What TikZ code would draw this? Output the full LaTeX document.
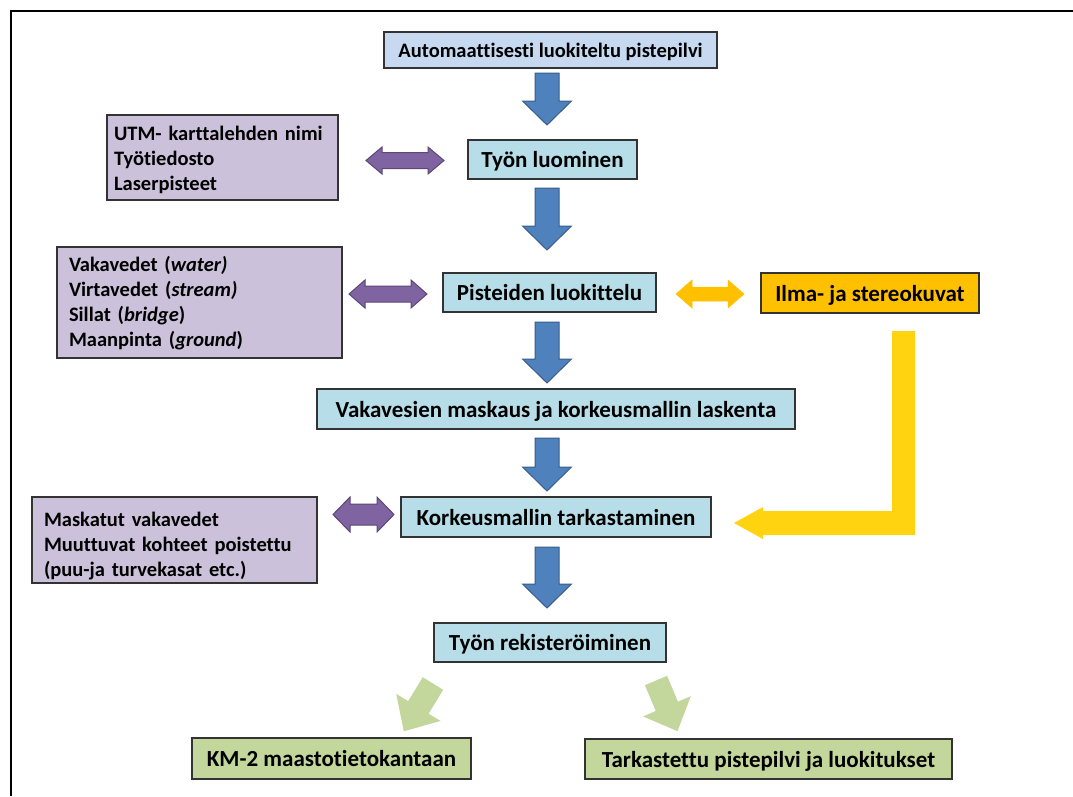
\documentclass[tikz,border=0pt]{standalone}
\usepackage{fontspec}
\setmainfont{Carlito}[Ligatures=NoCommon]
\usetikzlibrary{calc}

\definecolor{topblue}{HTML}{C6D9F1}
\definecolor{stepblue}{HTML}{B7DEE8}
\definecolor{lilac}{HTML}{CCC1DA}
\definecolor{amber}{HTML}{FFC000}
\definecolor{olivefill}{HTML}{C3D69B}
\definecolor{arrowblue}{HTML}{4F81BD}
\definecolor{arrowblueedge}{HTML}{385D8A}
\definecolor{arrowpurple}{HTML}{8064A2}
\definecolor{arrowpurpleedge}{HTML}{5C4776}
\definecolor{lightyellow}{HTML}{FFD30F}

% vertical block arrow from a top coordinate down to a tip coordinate
\newcommand\blockdown[2]{%
  \filldraw[bluearrow] let \p1=#1, \p2=#2 in
    (\x1-12pt,\y1) -- (\x1+12pt,\y1) -- (\x1+12pt,\y2+24pt) -- (\x1+24.5pt,\y2+24pt)
    -- (\x2,\y2) -- (\x1-24.5pt,\y2+24pt) -- (\x1-12pt,\y2+24pt) -- cycle;}
% horizontal double-headed block arrow: style, left tip, right tip, half head, half shaft, head length
\newcommand\dblarrow[6]{%
  \filldraw[#1] let \p1=#2, \p2=#3 in
    (\x1,\y1) -- (\x1+#6,\y1+#4) -- (\x1+#6,\y1+#5) -- (\x2-#6,\y1+#5) -- (\x2-#6,\y1+#4)
    -- (\x2,\y1) -- (\x2-#6,\y1-#4) -- (\x2-#6,\y1-#5) -- (\x1+#6,\y1-#5) -- (\x1+#6,\y1-#4) -- cycle;}

\begin{document}
\begin{tikzpicture}[x=1pt,y=-1pt,
  box/.style={draw=black!80, line width=1.1pt, inner sep=0pt, align=center, text depth=0pt,
    font=\fontsize{23}{27}\selectfont\bfseries},
  stepbox/.style={box, fill=stepblue},
  listbox/.style={draw=black!80, line width=1.1pt, fill=lilac, align=left,
    inner ysep=0pt, font=\fontsize{20.5}{25}\selectfont\bfseries},
  bluearrow/.style={fill=arrowblue, draw=arrowblueedge, line width=1pt},
  purplearrow/.style={fill=arrowpurple, draw=arrowpurpleedge, line width=1pt},
  amberarrow/.style={fill=amber, draw=amber, line width=0.5pt},
  yellowarrow/.style={fill=lightyellow, draw=none},
  greenarrow/.style={fill=olivefill, draw=none}]

\useasboundingbox (0,0) rectangle (1073,796);

% page frame
\draw[line width=2pt] (10.5,796) -- (10.5,10.5) -- (1073,10.5);

% main flow
\node[box, fill=topblue, minimum width=333, minimum height=36,
  font=\fontsize{20.5}{24}\selectfont\bfseries] (auto) at (550.5,50) {Automaattisesti luokiteltu pistepilvi};
\node[stepbox, minimum width=169, minimum height=39] (create) at (552.5,159.5) {Työn luominen};
\node[stepbox, minimum width=213, minimum height=39] (classify) at (549.5,292.5) {Pisteiden luokittelu};
\node[stepbox, minimum width=478, minimum height=40] (mask) at (556,409) {Vakavesien maskaus ja korkeusmallin laskenta};
\node[stepbox, minimum width=310, minimum height=40] (check) at (556,517) {Korkeusmallin tarkastaminen};
\node[stepbox, minimum width=232, minimum height=39] (register) at (550,642.5) {Työn rekisteröiminen};

% side boxes
\node[box, fill=amber, minimum width=218, minimum height=40] (photos) at (870,293) {Ilma- ja stereokuvat};
\node[listbox, inner xsep=7pt, text width=217, minimum height=85] (inputs) at (222.5,157.5)
  {\rule{0pt}{19pt}UTM- karttalehden nimi\\Työtiedosto\\Laserpisteet};
\node[listbox, inner xsep=12pt, text width=261, minimum height=111] (classes) at (199.5,302.5)
  {\rule{0pt}{16.5pt}Vakavedet (\textit{water)}\\Virtavedet (\textit{stream)}\\Sillat (\textit{bridge})\\Maanpinta (\textit{ground})};
\node[listbox, inner xsep=12pt, text width=261, minimum height=86] (results) at (174.5,540)
  {\rule{0pt}{26pt}Maskatut vakavedet\\Muuttuvat kohteet poistettu\\(puu-ja turvekasat etc.)};

% outputs
\node[box, fill=olivefill, minimum width=279, minimum height=41] (db) at (331.5,758.5) {KM-2 maastotietokantaan};
\node[box, fill=olivefill, minimum width=367, minimum height=40] (cloud) at (768.5,759) {Tarkastettu pistepilvi ja luokitukset};

% downward block arrows
\coordinate (a1s) at (547,73);  \coordinate (a1e) at (547,125);
\coordinate (a2s) at (547,188); \coordinate (a2e) at (547,250);
\coordinate (a3s) at (547,322); \coordinate (a3e) at (547,383);
\coordinate (a4s) at (547,438); \coordinate (a4e) at (547,491);
\coordinate (a5s) at (547,547); \coordinate (a5e) at (547,608);
\blockdown{(a1s)}{(a1e)}
\blockdown{(a2s)}{(a2e)}
\blockdown{(a3s)}{(a3e)}
\blockdown{(a4s)}{(a4e)}
\blockdown{(a5s)}{(a5e)}

% two-way arrows to the side boxes
\coordinate (d1l) at (366,160.5); \coordinate (d1r) at (444,160.5);
\coordinate (d2l) at (349,294);   \coordinate (d2r) at (427,294);
\coordinate (d3l) at (333,514.5); \coordinate (d3r) at (394,514.5);
\coordinate (d4l) at (676,294);   \coordinate (d4r) at (744,294);
\dblarrow{purplearrow}{(d1l)}{(d1r)}{13.5pt}{8pt}{16pt}
\dblarrow{purplearrow}{(d2l)}{(d2r)}{14pt}{8pt}{16pt}
\dblarrow{purplearrow}{(d3l)}{(d3r)}{17.5pt}{10.5pt}{17pt}
\dblarrow{amberarrow}{(d4l)}{(d4r)}{14pt}{7pt}{16pt}

% bent arrow from the photos down to the checking step
\coordinate (bendtop) at (903.5,331);
\coordinate (bendtip) at (734,523);
\fill[yellowarrow] (892,331) -- (915,331) -- (915,535) -- (763,535) -- (763,539)
  -- (bendtip) -- (763,507) -- (763,511) -- (892,511) -- cycle;

% slanted arrows to the two outputs
\fill[greenarrow] (422.8,677.2) -- (443.2,689.8) -- (428.6,713.7) -- (440.6,720.9)
  -- (403.8,731.3) -- (396.2,693.9) -- (408.2,701.1) -- cycle;
\fill[greenarrow] (644.9,685.2) -- (667.1,675.8) -- (677.9,701.6) -- (690.8,696.2)
  -- (677.5,731.2) -- (643.0,716.4) -- (655.8,711.0) -- cycle;

\end{tikzpicture}
\end{document}
